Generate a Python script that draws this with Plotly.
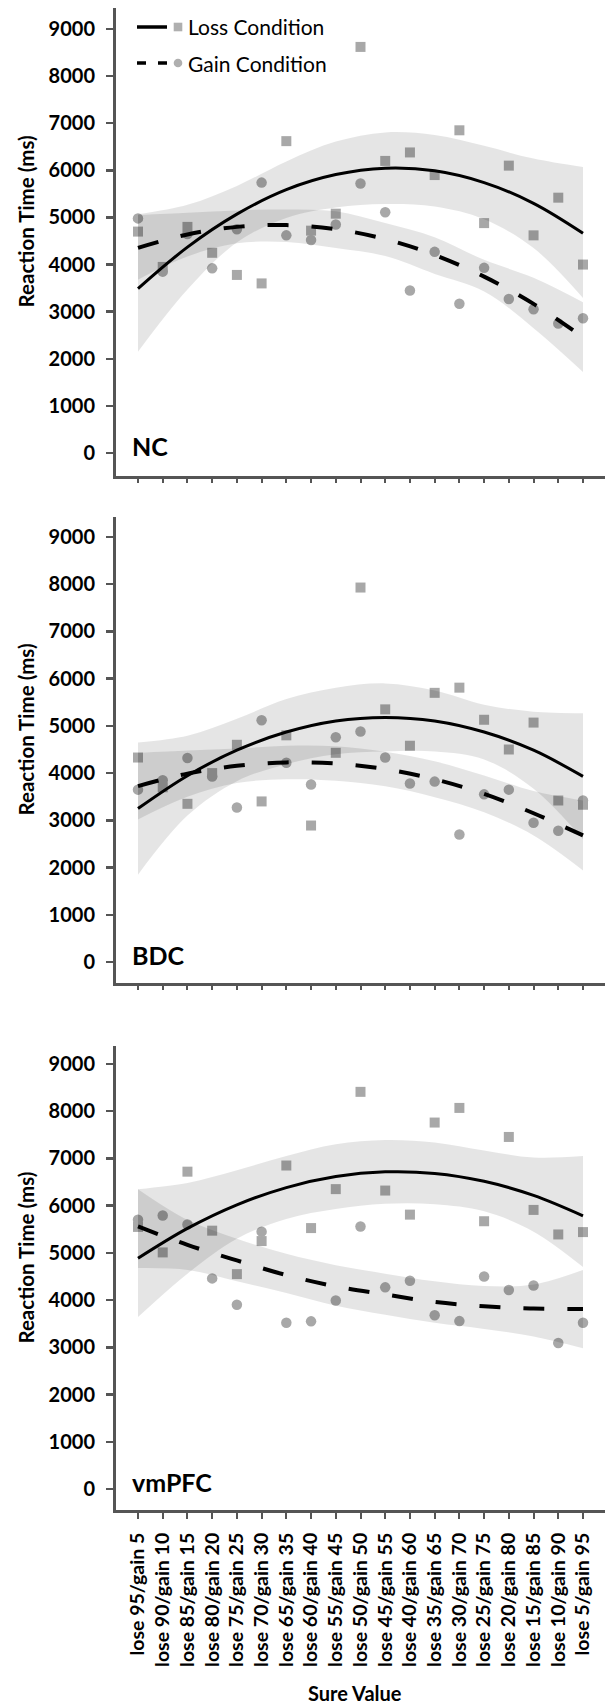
import plotly.graph_objects as go

# ---------------- data ----------------
categories = [
    "lose 95/gain 5", "lose 90/gain 10", "lose 85/gain 15", "lose 80/gain 20",
    "lose 75/gain 25", "lose 70/gain 30", "lose 65/gain 35", "lose 60/gain 40",
    "lose 55/gain 45", "lose 50/gain 50", "lose 45/gain 55", "lose 40/gain 60",
    "lose 35/gain 65", "lose 30/gain 70", "lose 25/gain 75", "lose 20/gain 80",
    "lose 15/gain 85", "lose 10/gain 90", "lose 5/gain 95",
]
# categories at which the fitted curves / bands were read
curve_categories = categories[::2]

y_tick_values = [0, 1000, 2000, 3000, 4000, 5000, 6000, 7000, 8000, 9000]
panel_names = ["NC", "BDC", "vmPFC"]

# NC
nc_loss = [4700, 3950, 4800, 4250, 3780, 3600, 6620, 4720, 5080, 8620, 6200, 6380, 5900, 6850, 4880, 6100, 4620, 5420, 4000]
nc_gain = [4980, 3850, 4650, 3920, 4750, 5740, 4620, 4520, 4850, 5720, 5110, 3450, 4270, 3170, 3930, 3270, 3050, 2750, 2860]
nc_loss_fit = [3490, 4370, 5070, 5590, 5910, 6045, 5990, 5740, 5300, 4665]
nc_loss_hi = [5070, 5270, 5670, 6190, 6610, 6805, 6750, 6520, 6250, 6070]
nc_loss_lo = [2150, 3470, 4470, 4990, 5210, 5285, 5230, 4960, 4350, 3290]
nc_gain_fit = [4355, 4640, 4800, 4838, 4750, 4540, 4205, 3745, 3165, 2457]
nc_gain_hi = [5050, 5100, 5150, 5170, 5130, 4880, 4580, 4100, 3720, 3200]
nc_gain_lo = [3680, 4170, 4450, 4480, 4350, 4180, 3800, 3430, 2650, 1720]

# BDC
bdc_loss = [4330, 3700, 3350, 4000, 4600, 3400, 4800, 2890, 4430, 7930, 5350, 4580, 5700, 5810, 5130, 4500, 5070, 3420, 3330]
bdc_gain = [3650, 3850, 4320, 3930, 3270, 5120, 4220, 3760, 4760, 4880, 4330, 3780, 3820, 2700, 3550, 3650, 2950, 2780, 3420]
bdc_loss_fit = [3250, 3945, 4485, 4870, 5105, 5180, 5105, 4870, 4485, 3930]
bdc_loss_hi = [4650, 4790, 5150, 5570, 5810, 5900, 5750, 5450, 5300, 5270]
bdc_loss_lo = [1850, 3100, 3830, 4190, 4400, 4460, 4460, 4290, 3670, 2600]
bdc_gain_fit = [3725, 3990, 4155, 4227, 4203, 4084, 3870, 3560, 3150, 2680]
bdc_gain_hi = [4430, 4480, 4520, 4580, 4570, 4450, 4250, 3950, 3620, 3420]
bdc_gain_lo = [3020, 3500, 3790, 3870, 3840, 3720, 3490, 3170, 2680, 1940]

# vmPFC
vm_loss = [5550, 5010, 6720, 5470, 4550, 5250, 6850, 5525, 6350, 8410, 6320, 5810, 7760, 8070, 5670, 7455, 5910, 5390, 5440]
vm_gain = [5700, 5790, 5600, 4460, 3900, 5450, 3520, 3550, 3990, 5560, 4270, 4410, 3680, 3555, 4500, 4215, 4310, 3090, 3520]
vm_loss_fit = [4885, 5518, 6017, 6383, 6616, 6716, 6683, 6516, 6217, 5784]
vm_loss_hi = [6350, 6480, 6750, 7050, 7300, 7390, 7340, 7170, 7020, 7050]
vm_loss_lo = [3640, 4560, 5300, 5720, 5930, 6040, 6030, 5880, 5450, 4700]
vm_gain_fit = [5560, 5170, 4840, 4530, 4290, 4120, 3960, 3870, 3820, 3810]
vm_gain_hi = [6350, 5700, 5300, 4980, 4740, 4560, 4400, 4300, 4330, 4640]
vm_gain_lo = [4680, 4640, 4400, 4150, 3880, 3690, 3520, 3390, 3230, 2980]

panels = [
    dict(loss=nc_loss, gain=nc_gain, lf=nc_loss_fit, lh=nc_loss_hi, ll=nc_loss_lo,
         gf=nc_gain_fit, gh=nc_gain_hi, gl=nc_gain_lo),
    dict(loss=bdc_loss, gain=bdc_gain, lf=bdc_loss_fit, lh=bdc_loss_hi, ll=bdc_loss_lo,
         gf=bdc_gain_fit, gh=bdc_gain_hi, gl=bdc_gain_lo),
    dict(loss=vm_loss, gain=vm_gain, lf=vm_loss_fit, lh=vm_loss_hi, ll=vm_loss_lo,
         gf=vm_gain_fit, gh=vm_gain_hi, gl=vm_gain_lo),
]

# ---------------- styling ----------------
FONT = "Lato"
AXIS_COL = "#555555"
PT_COL = "rgb(168,168,168)"
BAND_COL = "rgba(0,0,0,0.10)"

W, H = 611, 1705
ML, MR, MT, MB = 116, 6, 8, 195
plot_h = H - MT - MB
# panel pixel extents (top, bottom)
panel_px = [(8, 476), (517, 983), (1046, 1510)]
y_ranges = [[-488, 9446], [-445, 9424], [-445, 9381]]

fig = go.Figure()

for k, p in enumerate(panels):
    xa = "x" if k == 0 else f"x{k+1}"
    ya = "y" if k == 0 else f"y{k+1}"
    # points
    fig.add_trace(go.Scatter(x=categories, y=p["loss"], mode="markers", xaxis=xa, yaxis=ya,
                             marker=dict(symbol="square", size=10, color=PT_COL),
                             showlegend=False, hoverinfo="skip"))
    fig.add_trace(go.Scatter(x=categories, y=p["gain"], mode="markers", xaxis=xa, yaxis=ya,
                             marker=dict(symbol="circle", size=10.5, color=PT_COL),
                             showlegend=False, hoverinfo="skip"))
    # confidence bands
    for hi, lo in ((p["lh"], p["ll"]), (p["gh"], p["gl"])):
        fig.add_trace(go.Scatter(x=curve_categories, y=hi, mode="lines", xaxis=xa, yaxis=ya,
                                 line=dict(width=0, shape="spline", color="rgba(0,0,0,0)"),
                                 showlegend=False, hoverinfo="skip"))
        fig.add_trace(go.Scatter(x=curve_categories, y=lo, mode="lines", xaxis=xa, yaxis=ya,
                                 line=dict(width=0, shape="spline", color="rgba(0,0,0,0)"),
                                 fill="tonexty", fillcolor=BAND_COL,
                                 showlegend=False, hoverinfo="skip"))
    # fitted curves
    fig.add_trace(go.Scatter(x=curve_categories, y=p["lf"], mode="lines", xaxis=xa, yaxis=ya,
                             line=dict(color="black", width=3, shape="spline"),
                             showlegend=False, hoverinfo="skip"))
    fig.add_trace(go.Scatter(x=curve_categories, y=p["gf"], mode="lines", xaxis=xa, yaxis=ya,
                             line=dict(color="black", width=4, shape="spline", dash="21px,23px"),
                             showlegend=False, hoverinfo="skip"))

layout = dict(
    width=W, height=H,
    margin=dict(l=ML, r=MR, t=MT, b=MB),
    paper_bgcolor="white", plot_bgcolor="white",
    showlegend=False,
    font=dict(family=FONT, color="black"),
)

annotations = []
shapes = []
for k in range(3):
    top, bot = panel_px[k]
    d0 = (H - MB - bot) / plot_h
    d1 = (H - MB - top) / plot_h
    xk = "xaxis" if k == 0 else f"xaxis{k+1}"
    yk = "yaxis" if k == 0 else f"yaxis{k+1}"
    ya = "y" if k == 0 else f"y{k+1}"
    xa = "x" if k == 0 else f"x{k+1}"
    last = k == 2
    layout[xk] = dict(
        type="category", categoryorder="array", categoryarray=categories,
        range=[-0.89, 18.89], domain=[0, 1], anchor=ya,
        tickmode="array", tickvals=categories, ticktext=categories,
        showline=True, linecolor=AXIS_COL, linewidth=3,
        ticks="outside", ticklen=6 if last else 4, tickwidth=2, tickcolor=AXIS_COL,
        showgrid=False, zeroline=False,
        showticklabels=last, tickangle=-90,
        tickfont=dict(family=FONT, size=19.5, color="black", weight="bold"),
        ticklabelstandoff=6,
    )
    layout[yk] = dict(
        range=y_ranges[k], domain=[d0, d1], anchor=xa,
        tickmode="array", tickvals=y_tick_values,
        showline=True, linecolor=AXIS_COL, linewidth=3,
        ticks="outside", ticklen=7, tickwidth=2.5, tickcolor=AXIS_COL,
        showgrid=False, zeroline=False,
        tickfont=dict(family=FONT, size=20, color="black", weight="bold"),
        ticklabelstandoff=7,
    )
    # y axis title
    annotations.append(dict(text="Reaction Time (ms)", textangle=-90, showarrow=False,
                            xref="paper", x=(26 - ML) / (W - ML - MR), xanchor="center",
                            yref=f"{ya} domain", y=0.544, yanchor="middle",
                            font=dict(family=FONT, size=20.5, color="black", weight="bold")))
    # panel label
    annotations.append(dict(text=panel_names[k], showarrow=False,
                            xref=f"{xa} domain", x=(130 - ML) / (W - ML - MR), xanchor="left",
                            yref=ya, y=150, yanchor="middle",
                            font=dict(family=FONT, size=25, color="black", weight="bold")))

# x axis title
annotations.append(dict(text="Sure Value", showarrow=False,
                        xref="x3 domain", x=0.489, xanchor="center",
                        yref="paper", y=(H - MB - 1693) / plot_h, yanchor="middle",
                        font=dict(family=FONT, size=20, color="black", weight="bold")))

# legend (panel 1)
pw = W - ML - MR
ph = panel_px[0][1] - panel_px[0][0]
def fx(px):
    return (px - ML) / pw
def fy(py):
    return (panel_px[0][1] - py) / ph

legend_rows = [("Loss Condition", 27, "solid", "square"), ("Gain Condition", 63, "9px,12px", "circle")]
for text, py, dash, sym in legend_rows:
    shapes.append(dict(type="line", xref="x domain", yref="y domain",
                       x0=fx(137), x1=fx(167), y0=fy(py), y1=fy(py),
                       line=dict(color="black", width=3.5, dash=dash)))
    half = 4.3
    shapes.append(dict(type="rect" if sym == "square" else "circle",
                       xref="x domain", yref="y domain",
                       x0=fx(178 - half), x1=fx(178 + half), y0=fy(py + half), y1=fy(py - half),
                       fillcolor="rgb(175,175,175)", line=dict(width=0)))
    annotations.append(dict(text=text, showarrow=False, xref="x domain", x=fx(186), xanchor="left",
                            yref="y domain", y=fy(py), yanchor="middle",
                            font=dict(family=FONT, size=21, color="black")))

layout["annotations"] = annotations
layout["shapes"] = shapes
fig.update_layout(**layout)

fig.write_html("out.html",
               config={"displayModeBar": False, "staticPlot": True},
               post_script="document.body.style.margin='0';document.body.style.overflow='hidden';")
